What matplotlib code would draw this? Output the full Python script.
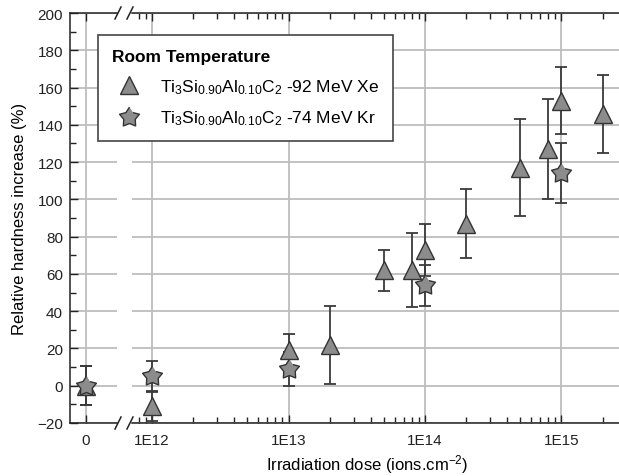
import numpy as np
import matplotlib
matplotlib.use("Agg")
import matplotlib.pyplot as plt
from matplotlib.lines import Line2D
from matplotlib.ticker import MultipleLocator, LogLocator, FixedLocator, FixedFormatter, NullFormatter

plt.rcParams['font.family'] = ['Liberation Sans', 'DejaVu Sans']
plt.rcParams['mathtext.fontset'] = 'custom'
plt.rcParams['mathtext.rm'] = 'Liberation Sans'
plt.rcParams['mathtext.it'] = 'Liberation Sans:italic'
plt.rcParams['mathtext.bf'] = 'Liberation Sans:bold'

# data (dose in ions/cm^2, hardness increase in %)
xe_dose = [0, 1e12, 1e13, 2e13, 5e13, 8e13, 1e14, 2e14, 5e14, 8e14, 1e15, 2e15]
xe_incr = [0, -11, 19, 22, 62, 62, 73, 87, 117, 127, 153, 146]
xe_err = [10.5, 8, 9, 21, 11, 20, 14, 18.5, 26, 27, 18, 21]

kr_dose = [0, 1e12, 1e13, 1e14, 1e15]
kr_incr = [0, 5, 9, 54, 114]
kr_err = [10.5, 8.5, 9, 11, 16]

xe_label = r'Ti$_3$Si$_{0.90}$Al$_{0.10}$C$_2$ -92 MeV Xe'
kr_label = r'Ti$_3$Si$_{0.90}$Al$_{0.10}$C$_2$ -74 MeV Kr'

# fat five-pointed star marker
ang = np.pi / 2 + np.arange(10) * np.pi / 5
rad = np.where(np.arange(10) % 2 == 0, 1.0, 0.58)
star = list(zip(rad * np.cos(ang), rad * np.sin(ang)))

W, H = 619, 477
fig = plt.figure(figsize=(W / 100, H / 100), dpi=100)
ax0 = fig.add_axes([70 / W, 53 / H, 47 / W, 410 / H])
ax1 = fig.add_axes([132 / W, 53 / H, 487 / W, 410 / H])

face = '#8c8c8c'
edge = '#333333'
ecol = '#3a3a3a'
styles = {
    'xe': dict(marker='^', ms=12.5, mfc=face, mec=edge, mew=1.0),
    'kr': dict(marker=star, ms=15, mfc=face, mec=edge, mew=1.0),
}

for name, dose, incr, err in [('xe', xe_dose, xe_incr, xe_err), ('kr', kr_dose, kr_incr, kr_err)]:
    dose = np.array(dose)
    incr = np.array(incr)
    err = np.array(err)
    z = dose == 0
    for ax, m in [(ax0, z), (ax1, ~z)]:
        ax.errorbar(dose[m], incr[m], yerr=err[m], fmt='none', ecolor=ecol,
                    elinewidth=1.3, capsize=4, capthick=1.3, zorder=3)
        ax.plot(dose[m], incr[m], ls='none', zorder=4, **styles[name])

grid_kw = dict(color='#bdbdbd', lw=1.3)
for ax in (ax0, ax1):
    ax.set_ylim(-20, 200)
    ax.yaxis.set_major_locator(MultipleLocator(20))
    ax.yaxis.set_minor_locator(MultipleLocator(10))
    ax.grid(True, which='major', **grid_kw)
    ax.set_axisbelow(True)
    for s in ax.spines.values():
        s.set_color('#222222')
        s.set_linewidth(1.1)
    ax.tick_params(which='both', direction='in', top=True, colors='#222222',
                   labelsize=11, width=1.0)
    ax.tick_params(which='major', length=6)
    ax.tick_params(which='minor', length=4)

ax0.set_xlim(-1, 1.94)
ax0.xaxis.set_major_locator(FixedLocator([0]))
ax0.xaxis.set_major_formatter(FixedFormatter(['0']))
ax0.spines['right'].set_visible(False)
ax0.tick_params(right=False, pad=5)
ax0.tick_params(axis='x', pad=7)

ax1.set_xscale('log')
ax1.set_xlim(7.13e11, 2.64e15)
ax1.xaxis.set_major_locator(FixedLocator([1e12, 1e13, 1e14, 1e15]))
ax1.xaxis.set_major_formatter(FixedFormatter(['1E12', '1E13', '1E14', '1E15']))
ax1.xaxis.set_minor_locator(LogLocator(base=10, subs=np.arange(2, 10)))
ax1.xaxis.set_minor_formatter(NullFormatter())
ax1.spines['left'].set_visible(False)
ax1.spines['right'].set_visible(False)
ax1.tick_params(axis='y', which='both', left=False, right=False, labelleft=False)
ax1.tick_params(axis='x', pad=7)

# axis break marks
for yb in (424, 14):
    for x0 in (115, 127):
        fig.add_artist(Line2D([x0 / W, (x0 + 6) / W], [1 - (yb + 6) / H, 1 - (yb - 6) / H],
                              color='#222222', lw=1.1))

fig.text(367 / W, 1 - 465 / H, r'Irradiation dose (ions.cm$^{-2}$)', ha='center', va='center', fontsize=12)
fig.text(20 / W, 1 - 219 / H, 'Relative hardness increase (%)', rotation=90,
         ha='center', va='center', fontsize=12)

handles = [Line2D([], [], ls='none', **styles['xe']), Line2D([], [], ls='none', **styles['kr'])]
leg = ax1.legend(handles, [xe_label, kr_label], title='Room Temperature', loc='upper left',
                 bbox_to_anchor=(98 / W, 1 - 36 / H), bbox_transform=fig.transFigure,
                 borderaxespad=0, frameon=True, fancybox=False, framealpha=1,
                 edgecolor='#444444', fontsize=12.5, alignment='left',
                 title_fontproperties={'weight': 'bold', 'size': 12.5},
                 handletextpad=0.8, borderpad=0.8, labelspacing=0.75)
leg.get_frame().set_linewidth(1.2)
leg.set_zorder(10)

fig.savefig('out.png', dpi=100)
